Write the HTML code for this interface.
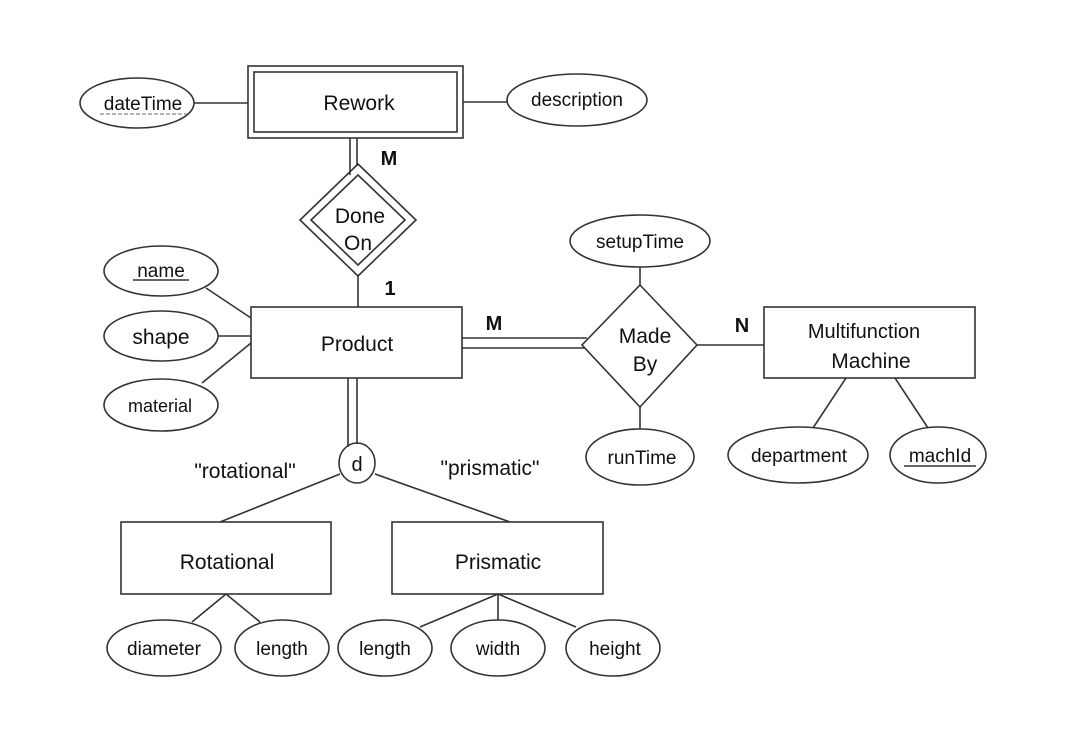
<!DOCTYPE html>
<html><head><meta charset="utf-8"><style>
html,body{margin:0;padding:0;background:#fff;}
svg{display:block;}
text{font-family:"Liberation Sans",Arial,sans-serif;fill:#111;}
</style></head><body>
<svg width="1068" height="756" viewBox="0 0 1068 756" xmlns="http://www.w3.org/2000/svg">
<g stroke="#333" stroke-width="1.6" fill="none">
<!-- Rework -->
<rect x="248" y="66" width="215" height="72"/>
<rect x="254" y="72" width="203" height="60"/>
<ellipse cx="137" cy="103" rx="57" ry="25"/>
<line x1="194" y1="103" x2="248" y2="103"/>
<ellipse cx="577" cy="100" rx="70" ry="26"/>
<line x1="463" y1="102" x2="507" y2="102"/>
<line x1="350" y1="138" x2="350" y2="175"/>
<line x1="357" y1="138" x2="357" y2="166"/>
<!-- Done On -->
<polygon points="358,164 416,220 358,276 300,220"/>
<polygon points="358,175 405,220 358,265 311,220"/>
<line x1="358" y1="276" x2="358" y2="307"/>
<!-- Product -->
<rect x="251" y="307" width="211" height="71"/>
<ellipse cx="161" cy="271" rx="57" ry="25"/>
<ellipse cx="161" cy="336" rx="57" ry="25"/>
<ellipse cx="161" cy="405" rx="57" ry="26"/>
<line x1="206" y1="288" x2="251" y2="318"/>
<line x1="218" y1="336" x2="251" y2="336"/>
<line x1="202" y1="383" x2="251" y2="343"/>
<!-- Made By -->
<polygon points="640,285 697,345 640,407 582,345"/>
<line x1="462" y1="338" x2="587" y2="338"/>
<line x1="462" y1="348" x2="584" y2="348"/>
<line x1="697" y1="345" x2="764" y2="345"/>
<rect x="764" y="307" width="211" height="71"/>
<ellipse cx="640" cy="241" rx="70" ry="26"/>
<line x1="640" y1="267" x2="640" y2="285"/>
<ellipse cx="640" cy="457" rx="54" ry="28"/>
<line x1="640" y1="407" x2="640" y2="429"/>
<ellipse cx="798" cy="455" rx="70" ry="28"/>
<ellipse cx="938" cy="455" rx="48" ry="28"/>
<line x1="846" y1="378" x2="813" y2="428"/>
<line x1="895" y1="378" x2="928" y2="428"/>
<!-- ISA -->
<line x1="348" y1="378" x2="348" y2="447"/>
<line x1="357" y1="378" x2="357" y2="444"/>
<ellipse cx="357" cy="463" rx="18" ry="20"/>
<line x1="340" y1="474" x2="220" y2="522"/>
<line x1="375" y1="474" x2="510" y2="522"/>
<rect x="121" y="522" width="210" height="72"/>
<rect x="392" y="522" width="211" height="72"/>
<line x1="226" y1="594" x2="192" y2="622"/>
<line x1="226" y1="594" x2="260" y2="622"/>
<line x1="498" y1="594" x2="420" y2="627"/>
<line x1="498" y1="594" x2="498" y2="620"/>
<line x1="498" y1="594" x2="576" y2="627"/>
<ellipse cx="164" cy="648" rx="57" ry="28"/>
<ellipse cx="282" cy="648" rx="47" ry="28"/>
<ellipse cx="385" cy="648" rx="47" ry="28"/>
<ellipse cx="498" cy="648" rx="47" ry="28"/>
<ellipse cx="613" cy="648" rx="47" ry="28"/>
</g>
<g font-size="21" text-anchor="middle">
<text x="359" y="110">Rework</text>
<text x="143" y="110" font-size="19">dateTime</text>
<line x1="100" y1="114" x2="187" y2="114" stroke="#888" stroke-width="1.2" stroke-dasharray="4,2"/>
<text x="577" y="106" font-size="19">description</text>
<text x="389" y="165" font-weight="bold" font-size="20">M</text>
<text x="360" y="223">Done</text>
<text x="358" y="250">On</text>
<text x="390" y="295" font-weight="bold" font-size="20">1</text>
<text x="161" y="277" font-size="19">name</text>
<line x1="133" y1="280" x2="189" y2="280" stroke="#333" stroke-width="1.4"/>
<text x="161" y="344">shape</text>
<text x="160" y="412" font-size="18">material</text>
<text x="357" y="351">Product</text>
<text x="494" y="330" font-weight="bold" font-size="20">M</text>
<text x="742" y="332" font-weight="bold" font-size="20">N</text>
<text x="645" y="343">Made</text>
<text x="645" y="371">By</text>
<text x="864" y="338" font-size="20">Multifunction</text>
<text x="871" y="368">Machine</text>
<text x="640" y="248" font-size="19">setupTime</text>
<text x="642" y="464" font-size="19">runTime</text>
<text x="799" y="462" font-size="19">department</text>
<text x="940" y="462" font-size="19">machId</text>
<line x1="904" y1="466" x2="976" y2="466" stroke="#333" stroke-width="1.4"/>
<text x="357" y="471" font-size="20">d</text>
<text x="245" y="478">"rotational"</text>
<text x="490" y="475">"prismatic"</text>
<text x="227" y="569">Rotational</text>
<text x="498" y="569">Prismatic</text>
<text x="164" y="655" font-size="19">diameter</text>
<text x="282" y="655" font-size="19">length</text>
<text x="385" y="655" font-size="19">length</text>
<text x="498" y="655" font-size="19">width</text>
<text x="615" y="655" font-size="19">height</text>
</g>
</svg>
</body></html>
